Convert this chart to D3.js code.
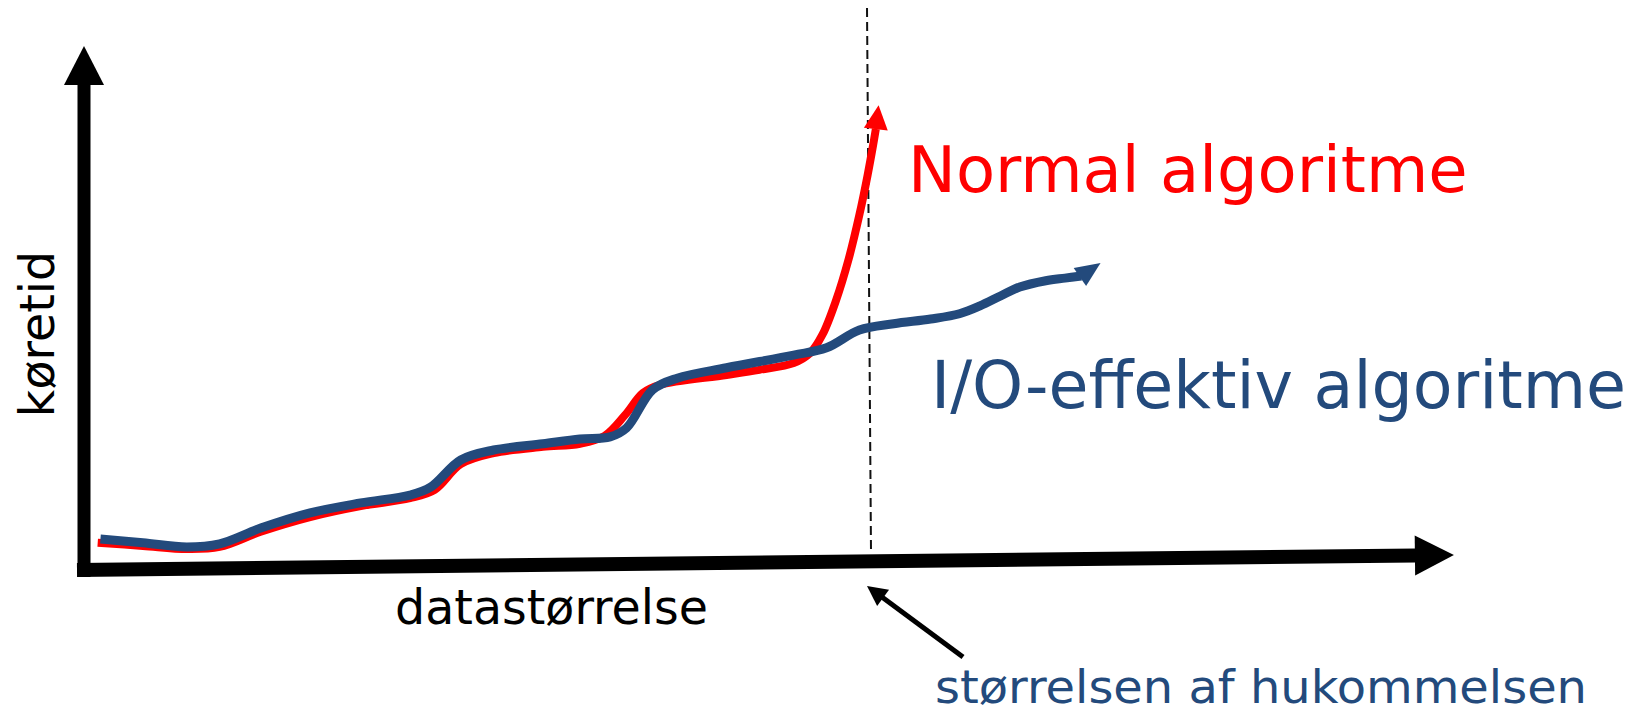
<!DOCTYPE html>
<html>
<head>
<meta charset="utf-8">
<script src="https://cdn.jsdelivr.net/npm/d3@7"></script>
<style>
  body { margin: 0; background: #fff; }
  svg { display: block; font-family: "DejaVu Sans", Verdana, sans-serif; }
</style>
</head>
<body>
<div id="viz"></div>
<script>
// Normal algoritme: data size vs running time (last point = arrow tip)
const normalX = [1.0, 4.3, 7.5, 9.9, 12.9, 16.5, 20.2, 23.8, 25.6, 27.5, 29.9, 33.5, 36.2, 38.0, 39.5, 40.8, 42.0, 46.9, 49.3, 51.8, 53.0, 53.9, 54.9, 55.8, 56.6, 57.2, 57.6, 57.8, 58.0];
const normalY = [5.2, 4.6, 4.0, 4.4, 7.3, 10.1, 12.2, 13.7, 15.3, 20.2, 22.3, 23.5, 24.1, 25.6, 29.6, 33.8, 35.3, 37.2, 38.2, 39.5, 41.4, 44.9, 51.5, 59.2, 67.8, 75.4, 81.1, 84.2, 88.7];

// I/O-effektiv algoritme (last point = arrow tip)
const ioX = [1.2, 4.3, 7.5, 9.9, 12.9, 16.5, 20.2, 23.8, 25.3, 27.5, 29.9, 33.5, 36.2, 38.4, 39.6, 41.5, 43.3, 46.9, 51.8, 54.2, 56.6, 59.1, 61.8, 63.9, 65.4, 66.9, 68.3, 70.2, 71.6, 72.8, 74.2];
const ioY = [5.9, 5.2, 4.4, 5.0, 8.0, 10.9, 12.8, 14.3, 15.8, 21.0, 22.9, 24.1, 25.0, 25.4, 27.1, 34.4, 36.6, 38.6, 41.0, 42.4, 45.8, 47.0, 47.9, 48.9, 50.4, 52.3, 54.0, 55.2, 55.7, 56.1, 58.6];

// size of the memory (dashed line)
const memorySize = 57.3;

const yLabel = 'køretid';
const xLabel = 'datastørrelse';
const normalLabel = 'Normal algoritme';
const ioLabel = 'I/O-effektiv algoritme';
const memoryLabel = 'størrelsen af hukommelsen';

const width = 1651;
const height = 715;
const red = '#ff0000';
const blue = '#234a7c';

const svg = d3.select('#viz')
  .append('svg')
  .attr('width', width)
  .attr('height', height);

const xScale = d3.scaleLinear().domain([0, 100]).range([84, 1454]);
const yScale = d3.scaleLinear().domain([0, 100]).range([570, 46]);

const x0 = xScale(0);
const y0 = yScale(0);

// y axis arrow
svg.append('rect')
  .attr('x', x0 - 6.5)
  .attr('y', yScale(100) + 38)
  .attr('width', 13)
  .attr('height', y0 + 7 - (yScale(100) + 38))
  .attr('fill', 'black');
svg.append('path')
  .attr('d', `M${x0},${yScale(100)}L${x0 - 20},${yScale(100) + 39}L${x0 + 20},${yScale(100) + 39}Z`)
  .attr('fill', 'black');

// x axis arrow (slightly tilted, like the slide)
const tilt = Math.atan2(-15, xScale(100) - x0 + 7) * 180 / Math.PI;
const xAxis = svg.append('g')
  .attr('transform', `rotate(${tilt},${x0 - 7},${y0})`);
xAxis.append('rect')
  .attr('x', x0 - 7)
  .attr('y', y0 - 7)
  .attr('width', xScale(100) - 38 - (x0 - 7))
  .attr('height', 14)
  .attr('fill', 'black');
xAxis.append('path')
  .attr('d', `M${xScale(100)},${y0}L${xScale(100) - 39},${y0 - 20}L${xScale(100) - 39},${y0 + 20}Z`)
  .attr('fill', 'black');

// dashed memory line
svg.append('line')
  .attr('x1', xScale(memorySize) - 2)
  .attr('y1', 8)
  .attr('x2', xScale(memorySize) + 2)
  .attr('y2', y0 - 17)
  .attr('stroke', '#111')
  .attr('stroke-width', 2)
  .attr('stroke-dasharray', '9,5');

const line = d3.line()
  .x(d => xScale(d[0]))
  .y(d => yScale(d[1]))
  .curve(d3.curveCatmullRom.alpha(0.5));

function drawSeries(xs, ys, color, lineWidth, headLen, headHalf) {
  const pts = d3.zip(xs, ys);
  const body = pts.slice(0, -1);
  svg.append('path')
    .datum(body)
    .attr('d', line)
    .attr('fill', 'none')
    .attr('stroke', color)
    .attr('stroke-width', lineWidth);

  // arrow head from last line point to the tip
  const b = body[body.length - 1];
  const t = pts[pts.length - 1];
  const bx = xScale(b[0]), by = yScale(b[1]);
  const tx = xScale(t[0]), ty = yScale(t[1]);
  const len = Math.hypot(tx - bx, ty - by);
  const ux = (tx - bx) / len, uy = (ty - by) / len;
  const hx = tx - ux * headLen, hy = ty - uy * headLen;
  svg.append('path')
    .attr('d', `M${tx},${ty}L${hx - uy * headHalf},${hy + ux * headHalf}L${hx + uy * headHalf},${hy - ux * headHalf}Z`)
    .attr('fill', color);
}

drawSeries(normalX, normalY, red, 8, 24, 12);
drawSeries(ioX, ioY, blue, 9, 25, 11);

// memory annotation arrow
const mx = xScale(memorySize) - 2;
const tip = [mx, y0 + 16];
const tail = [mx + 96, y0 + 87];
const alen = Math.hypot(tail[0] - tip[0], tail[1] - tip[1]);
const ax = (tail[0] - tip[0]) / alen, ay = (tail[1] - tip[1]) / alen;
svg.append('line')
  .attr('x1', tip[0] + ax * 16)
  .attr('y1', tip[1] + ay * 16)
  .attr('x2', tail[0])
  .attr('y2', tail[1])
  .attr('stroke', 'black')
  .attr('stroke-width', 5);
svg.append('path')
  .attr('d', `M${tip[0]},${tip[1]}L${tip[0] + ax * 20 - ay * 10},${tip[1] + ay * 20 + ax * 10}L${tip[0] + ax * 20 + ay * 10},${tip[1] + ay * 20 - ax * 10}Z`)
  .attr('fill', 'black');

// labels
svg.append('text')
  .attr('x', 908)
  .attr('y', 192)
  .attr('fill', red)
  .style('font-size', '64px')
  .text(normalLabel);

svg.append('text')
  .attr('x', 931)
  .attr('y', 408)
  .attr('fill', blue)
  .style('font-size', '65px')
  .text(ioLabel);

svg.append('text')
  .attr('x', 935)
  .attr('y', 703)
  .attr('fill', blue)
  .attr('textLength', 652)
  .attr('lengthAdjust', 'spacingAndGlyphs')
  .style('font-size', '46px')
  .text(memoryLabel);

svg.append('text')
  .attr('x', 395)
  .attr('y', 624)
  .attr('fill', 'black')
  .style('font-size', '47.5px')
  .text(xLabel);

svg.append('text')
  .attr('transform', 'translate(54,334) rotate(-90)')
  .attr('text-anchor', 'middle')
  .attr('fill', 'black')
  .style('font-size', '47.5px')
  .text(yLabel);
</script>
</body>
</html>
